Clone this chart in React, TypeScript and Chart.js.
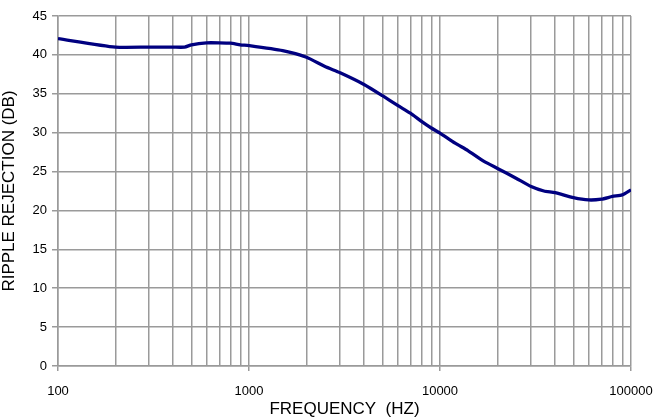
import React, { useEffect, useRef } from "react";
import { Chart, registerables } from "chart.js";

Chart.register(...registerables);

const frequencies = [100, 200, 300, 400, 460, 500, 600, 700, 800, 900, 1000, 1500, 2000, 2500, 3000, 4000, 5000, 6000, 7000, 8000, 9000, 10000, 12000, 14000, 17000, 20000, 25000, 30000, 35000, 40000, 50000, 60000, 70000, 80000, 90000, 100000];
const rejection = [42.1, 41.0, 41.0, 41.0, 41.0, 41.3, 41.55, 41.55, 41.5, 41.3, 41.2, 40.55, 39.7, 38.5, 37.7, 36.2, 34.75, 33.5, 32.5, 31.45, 30.6, 29.95, 28.65, 27.7, 26.3, 25.4, 24.15, 23.07, 22.5, 22.3, 21.65, 21.35, 21.45, 21.8, 22.0, 22.65];
const xTicks = [100, 200, 300, 400, 500, 600, 700, 800, 900, 1000, 2000, 3000, 4000, 5000, 6000, 7000, 8000, 9000, 10000, 20000, 30000, 40000, 50000, 60000, 70000, 80000, 90000, 100000];
const xLabels = [100, 1000, 10000, 100000];

const GRID = "#9a9a9a";
const FONT = "'Liberation Sans', Arial, sans-serif";

export default function App() {
  const ref = useRef<HTMLCanvasElement | null>(null);
  useEffect(() => {
    document.body.style.margin = "0";
    const canvas = ref.current!;
    const chart = new Chart(canvas, {
      type: "scatter",
      data: {
        datasets: [
          {
            data: frequencies.map((f, i) => ({ x: f, y: rejection[i] })),
            showLine: true,
            borderColor: "#000080",
            backgroundColor: "#000080",
            borderWidth: 3.3,
            pointRadius: 0,
            tension: 0.2,
          },
        ],
      },
      options: {
        animation: false,
        responsive: false,
        devicePixelRatio: 1,
        layout: { padding: { top: 16, right: 24, left: 0, bottom: 0 } },
        plugins: { legend: { display: false }, tooltip: { enabled: false } },
        scales: {
          x: {
            type: "logarithmic",
            min: 100,
            max: 100000,
            afterBuildTicks: (scale: any) => {
              scale.ticks = xTicks.map((v) => ({ value: v }));
            },
            afterFit: (scale: any) => {
              scale.height = 53;
              scale.paddingLeft = 0;
              scale.paddingRight = 0;
            },
            ticks: {
              autoSkip: false,
              maxRotation: 0,
              padding: 13,
              color: "#000",
              font: { family: FONT, size: 13 },
              callback: (v: any) => (xLabels.includes(Number(v)) ? String(v) : ""),
            },
            grid: {
              color: GRID,
              lineWidth: 1.5,
              tickLength: 5,
              tickColor: (ctx: any) => (ctx.tick && xLabels.includes(ctx.tick.value) ? GRID : "rgba(0,0,0,0)"),
            },
            border: { color: GRID, width: 1.5 },
            title: {
              display: true,
              text: "FREQUENCY  (HZ)",
              color: "#000",
              font: { family: FONT, size: 17, lineHeight: 1.1 },
              padding: { top: 0, bottom: 0 },
            },
          },
          y: {
            min: 0,
            max: 45,
            afterFit: (scale: any) => {
              scale.width = 58;
              scale.paddingTop = 0;
              scale.paddingBottom = 0;
            },
            ticks: {
              stepSize: 5,
              padding: 5,
              color: "#000",
              font: { family: FONT, size: 13 },
            },
            grid: { color: GRID, lineWidth: 1.5, tickLength: 6, tickColor: GRID },
            border: { color: GRID, width: 1.5 },
            title: {
              display: true,
              text: "RIPPLE REJECTION (DB)",
              color: "#000",
              font: { family: FONT, size: 17, lineHeight: 1.1 },
              padding: { top: 0, bottom: 0 },
            },
          },
        },
      },
    });
    return () => chart.destroy();
  }, []);
  return (
    <div style={{ position: "absolute", left: 0, top: 0, width: 655, height: 419 }}>
      <canvas ref={ref} width={655} height={419} />
    </div>
  );
}
